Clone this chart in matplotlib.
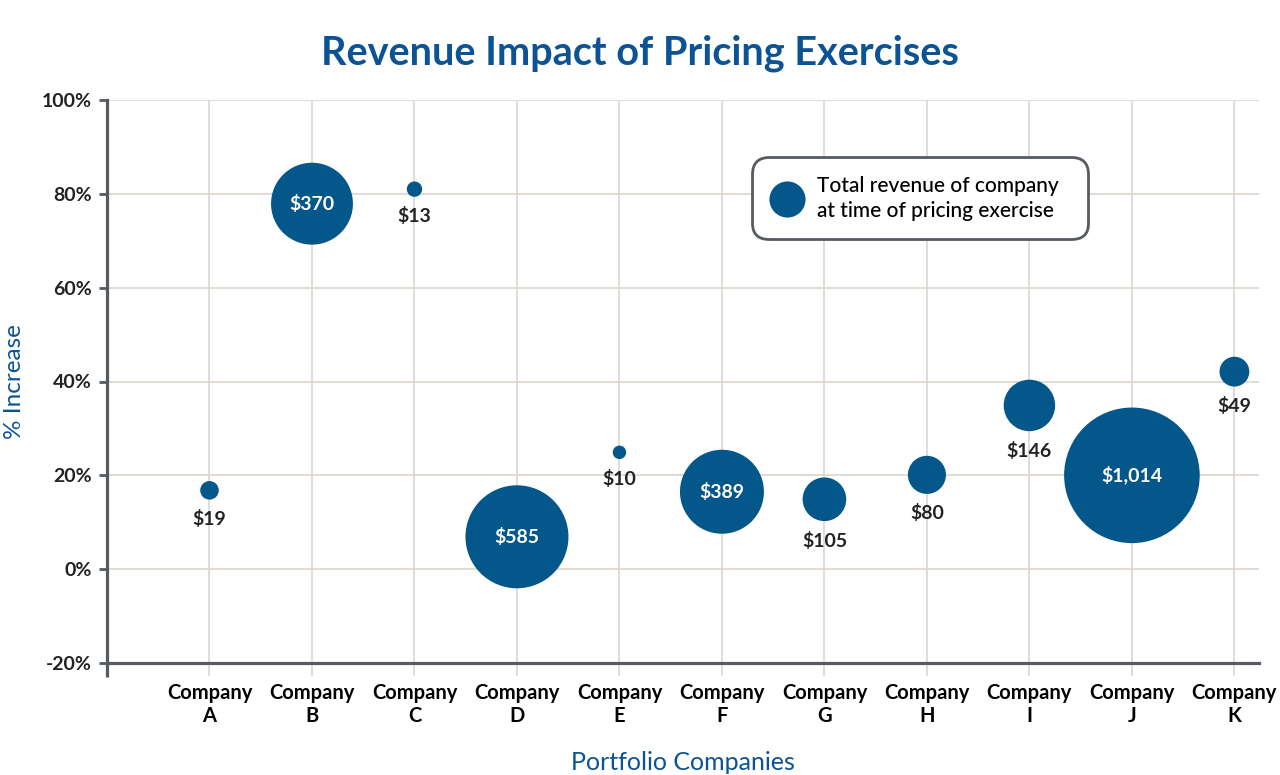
import numpy as np
import matplotlib
matplotlib.use("Agg")
import matplotlib.pyplot as plt
from matplotlib.lines import Line2D

companies = ["A", "B", "C", "D", "E", "F", "G", "H", "I", "J", "K"]
pct_increase = [16.8, 77.9, 81.0, 6.9, 24.9, 16.5, 14.9, 20.1, 34.9, 20.0, 42.1]
revenue = [19, 370, 13, 585, 10, 389, 105, 80, 146, 1014, 49]
label_inside = [False, True, False, True, False, True, False, False, False, True, False]
y_ticks = [-20, 0, 20, 40, 60, 80, 100]

BLUE = "#04578A"
TITLE_BLUE = "#0B5394"
DARK = "#222222"
SPINE = "#555B60"
GRID = "#DDD6CE"

plt.rcParams['font.family'] = ['Lato', 'DejaVu Sans']

fig = plt.figure(figsize=(12.8, 7.75), dpi=100)
ax = fig.add_axes([107/1280, 1 - 663/775, (1259-107)/1280, (663-100)/775])

x = np.arange(1, len(companies) + 1)
sizes = [9.4 * v for v in revenue]
ax.scatter(x, pct_increase, s=sizes, color=BLUE, linewidths=0, zorder=3)

for xi, yi, v, inside in zip(x, pct_increase, revenue, label_inside):
    txt = "${:,}".format(v)
    if inside:
        ax.text(xi, yi, txt, ha="center", va="center", color="white",
                fontsize=14, fontweight="bold", zorder=4)
    else:
        r_pt = 1.533 * np.sqrt(v)
        ax.annotate(txt, (xi, yi), xytext=(0, -(r_pt + 14)), textcoords="offset points",
                    ha="center", va="center", color=DARK, fontsize=14,
                    fontweight="bold", zorder=4)

ax.set_xlim(0, 11.24)
ax.set_ylim(-20, 100)
ax.set_xticks(x)
ax.set_xticklabels(["Company\n" + c for c in companies], fontsize=14.5,
                   fontweight="bold", color="black", linespacing=1.2)
ax.set_yticks(y_ticks)
ax.set_yticklabels(["{}%".format(t) for t in y_ticks], fontsize=14,
                   fontweight="bold", color=DARK)

ax.grid(True, color=GRID, linewidth=1.2, zorder=0)
ax.set_axisbelow(True)
ax.tick_params(axis="x", length=9.5, width=1.2, color=GRID, pad=5)
ax.tick_params(axis="y", length=6, width=2, color=SPINE, pad=5)

for s in ["top", "right"]:
    ax.spines[s].set_visible(False)
for s in ["left", "bottom"]:
    ax.spines[s].set_color(SPINE)
    ax.spines[s].set_linewidth(2.3)
# left spine extends slightly below the bottom axis
ax.plot([0, 0], [0, -0.024], transform=ax.transAxes, color=SPINE,
        linewidth=2.3, clip_on=False, solid_capstyle="butt")

ax.set_xlabel("Portfolio Companies", fontsize=18, color=TITLE_BLUE, labelpad=18)
ax.set_ylabel("% Increase", fontsize=17.5, color=TITLE_BLUE, labelpad=12)

fig.suptitle("Revenue Impact of Pricing Exercises", fontsize=28.5, fontweight="bold",
             color=TITLE_BLUE, x=0.5, y=0.955)

handle = Line2D([], [], marker="o", linestyle="none", markersize=26,
                markerfacecolor=BLUE, markeredgewidth=0)
leg = ax.legend([handle], ["Total revenue of company  \nat time of pricing exercise  "],
                loc="upper left", bbox_to_anchor=(752/1280, 1 - 157/775),
                bbox_transform=fig.transFigure, borderaxespad=0,
                fontsize=15, frameon=True, fancybox=True, framealpha=1,
                edgecolor=SPINE, borderpad=0.9, handletextpad=0.6,
                handlelength=1.6)
leg.get_frame().set_linewidth(2)
leg.get_frame().set_boxstyle("round,pad=0,rounding_size=0.8")
for t in leg.get_texts():
    t.set_color("black")
    t.set_fontweight("medium")
    t.set_linespacing(1.3)

fig.savefig("out.png", dpi=100)
